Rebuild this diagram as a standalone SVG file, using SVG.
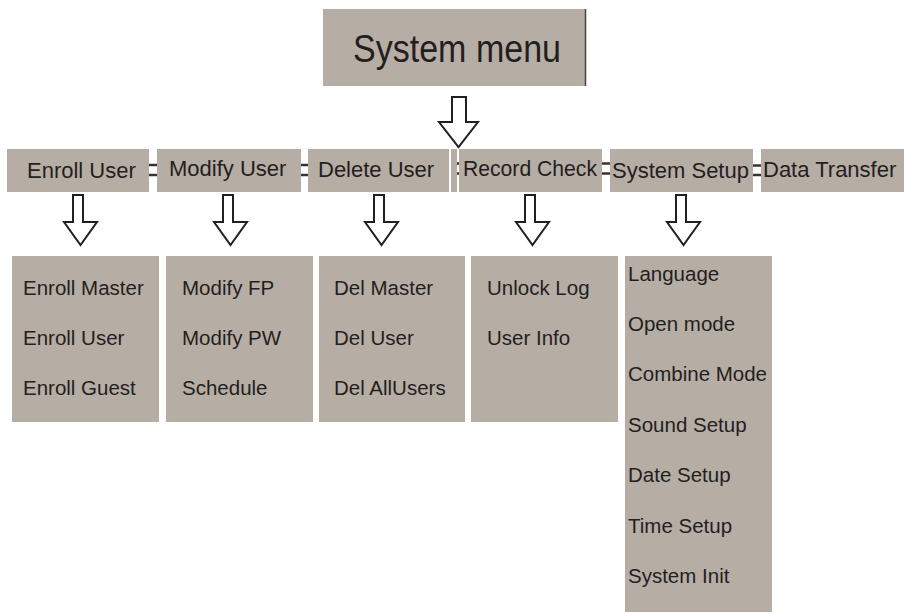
<svg xmlns="http://www.w3.org/2000/svg" width="905" height="614" viewBox="0 0 905 614">
<style>
.box{fill:#b6ada5}
.t1{font-family:"Liberation Sans",Arial,sans-serif;font-size:22px;fill:#231f20}
.t2{font-family:"Liberation Sans",Arial,sans-serif;font-size:20.5px;fill:#231f20}
.arr{fill:#ffffff;stroke:#231f20;stroke-width:2;stroke-linejoin:miter}
.lnk{stroke:#3a3230;stroke-width:2.5}
</style>
<rect width="905" height="614" fill="#ffffff"/>
<g id="system-menu">
<rect class="box" x="323" y="9" width="262" height="77"/>
<line x1="585.5" y1="9" x2="585.5" y2="86" stroke="#4a423e" stroke-width="1.5"/>
<text x="353" y="62" font-family="'Liberation Sans',Arial,sans-serif" font-size="39" fill="#231f20" textLength="208" lengthAdjust="spacingAndGlyphs">System menu</text>
</g>
<g id="connectors">
<path class="arr" d="M452,97 L466,97 L466,122 L478,122 L458.5,147 L439,122 L452,122 Z"/>
<path class="arr" d="M73,195 L83,195 L83,222 L97,222 L80.5,245 L64,222 L73,222 Z"/>
<path class="arr" d="M223,195 L233,195 L233,222 L247,222 L230.5,245 L214,222 L223,222 Z"/>
<path class="arr" d="M374,195 L384,195 L384,222 L398,222 L381.5,245 L365,222 L374,222 Z"/>
<path class="arr" d="M525,195 L535,195 L535,222 L549,222 L532.5,245 L516,222 L525,222 Z"/>
<path class="arr" d="M676,195 L686,195 L686,222 L700,222 L683.5,245 L667,222 L676,222 Z"/>
<line class="lnk" x1="149" y1="165" x2="157" y2="165"/><line class="lnk" x1="149" y1="175" x2="157" y2="175"/>
<line class="lnk" x1="301" y1="165" x2="308" y2="165"/><line class="lnk" x1="301" y1="175" x2="308" y2="175"/>
<line class="lnk" x1="451" y1="163.5" x2="459" y2="163.5"/><line class="lnk" x1="451" y1="173.5" x2="459" y2="173.5"/>
<line class="lnk" x1="602" y1="163.5" x2="610" y2="163.5"/><line class="lnk" x1="602" y1="173.5" x2="610" y2="173.5"/>
<line class="lnk" x1="753" y1="165.5" x2="761" y2="165.5"/><line class="lnk" x1="753" y1="175" x2="761" y2="175"/>
</g>
<g id="enroll-user">
<rect class="box" x="7" y="149" width="142" height="43"/>
<text class="t1" x="27" y="178">Enroll User</text>
</g>
<g id="modify-user">
<rect class="box" x="157" y="149" width="144" height="43"/>
<text class="t1" x="169" y="176">Modify User</text>
</g>
<g id="delete-user">
<rect class="box" x="308" y="149" width="141" height="43"/>
<rect class="box" x="451" y="149" width="6" height="43"/>
<text class="t1" x="318" y="177">Delete User</text>
</g>
<g id="record-check">
<rect class="box" x="459" y="149" width="143" height="43"/>
<text class="t1" x="463" y="176" textLength="134" lengthAdjust="spacingAndGlyphs">Record Check</text>
</g>
<g id="system-setup">
<rect class="box" x="610" y="149" width="143" height="43"/>
<text class="t1" x="612" y="178">System Setup</text>
</g>
<g id="data-transfer">
<rect class="box" x="761" y="149" width="143" height="43"/>
<text class="t1" x="763" y="177">Data Transfer</text>
</g>
<g id="enroll-menu">
<rect class="box" x="12" y="256" width="147" height="166"/>
<text class="t2" x="23" y="295">Enroll Master</text>
<text class="t2" x="23" y="345">Enroll User</text>
<text class="t2" x="23" y="395">Enroll Guest</text>
</g>
<g id="modify-menu">
<rect class="box" x="166" y="256" width="147" height="166"/>
<text class="t2" x="182" y="295">Modify FP</text>
<text class="t2" x="182" y="345">Modify PW</text>
<text class="t2" x="182" y="395">Schedule</text>
</g>
<g id="delete-menu">
<rect class="box" x="319" y="256" width="146" height="166"/>
<text class="t2" x="334" y="295">Del Master</text>
<text class="t2" x="334" y="345">Del User</text>
<text class="t2" x="334" y="395">Del AllUsers</text>
</g>
<g id="record-menu">
<rect class="box" x="471" y="256" width="147" height="166"/>
<text class="t2" x="487" y="295">Unlock Log</text>
<text class="t2" x="487" y="345">User Info</text>
</g>
<g id="setup-menu">
<rect class="box" x="625" y="256" width="147" height="356"/>
<text class="t2" x="628" y="280.5">Language</text>
<text class="t2" x="628" y="331">Open mode</text>
<text class="t2" x="628" y="381">Combine Mode</text>
<text class="t2" x="628" y="431.5">Sound Setup</text>
<text class="t2" x="628" y="482">Date Setup</text>
<text class="t2" x="628" y="532.5">Time Setup</text>
<text class="t2" x="628" y="583">System Init</text>
</g>
</svg>
